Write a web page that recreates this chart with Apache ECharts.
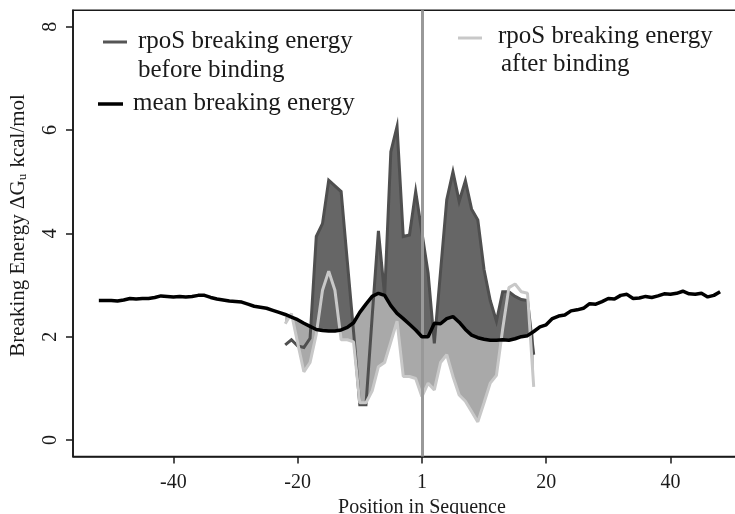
<!DOCTYPE html>
<html>
<head>
<meta charset="utf-8">
<script src="https://cdn.jsdelivr.net/npm/echarts@6/dist/echarts.min.js"></script>
<style>
html,body{margin:0;padding:0;background:#ffffff;}
#chart{width:735px;height:514px;}
</style>
</head>
<body>
<div id="chart"></div>
<script>
// ---------------- data ----------------
const meanStart = -52;
const meanValues = [
  2.70, 2.70, 2.70, 2.69, 2.71, 2.74, 2.73, 2.74, 2.74, 2.76,   // -52..-43
  2.79, 2.78, 2.77, 2.78, 2.77, 2.78, 2.80, 2.80, 2.76, 2.73,   // -42..-33
  2.71, 2.69, 2.68, 2.67, 2.63, 2.59, 2.57, 2.55, 2.51, 2.47,   // -32..-23
  2.43, 2.38, 2.33, 2.26, 2.20, 2.14, 2.12, 2.11, 2.11, 2.13,   // -22..-13
  2.18, 2.27, 2.47, 2.63, 2.78, 2.84, 2.80, 2.60, 2.45, 2.35,   // -12..-3
  2.24, 2.13, 2.00, 2.00, 2.26, 2.25, 2.35, 2.39, 2.28, 2.14,   // -2..7
  2.03, 1.98, 1.95, 1.93, 1.93, 1.94, 1.93, 1.96, 2.00, 2.02,   // 8..17
  2.10, 2.19, 2.23, 2.35, 2.40, 2.42, 2.50, 2.52, 2.55, 2.64,   // 18..27
  2.63, 2.68, 2.74, 2.73, 2.80, 2.82, 2.74, 2.75, 2.78, 2.76,   // 28..37
  2.79, 2.83, 2.82, 2.84, 2.88, 2.83, 2.82, 2.84, 2.77, 2.80,   // 38..47
  2.87                                                          // 48
];
const bindStart = -22;
const beforeValues = [
  1.84, 1.94, 1.82, 1.79, 1.97, 3.94, 4.19, 5.03, 4.92, 4.81,   // -22..-13
  3.45, 2.10, 0.68, 0.68, 2.40, 4.05, 2.80, 5.58, 6.07, 3.94,   // -12..-3
  3.97, 4.81, 4.02, 3.23, 1.87, 3.26, 4.65, 5.19, 4.62, 5.02,   // -2..7
  4.47, 4.26, 3.30, 2.70, 2.30, 2.87, 2.87, 2.78, 2.72, 2.70,   // 8..17
  1.65                                                          // 18
];
const afterValues = [
  2.25, 2.45, 1.88, 1.32, 1.50, 2.05, 2.90, 3.27, 2.90, 1.94,   // -22..-13
  1.94, 1.90, 0.72, 0.72, 0.95, 1.42, 1.50, 1.90, 2.30, 1.23,   // -12..-3
  1.23, 1.19, 0.84, 1.10, 0.97, 1.50, 1.65, 1.23, 0.87, 0.75,   // -2..7
  0.55, 0.35, 0.72, 1.10, 1.25, 2.15, 2.95, 3.02, 2.87, 2.84,   // 8..17
  1.03                                                          // 18
];
const xTickValues = [-40, -20, 0, 20, 40];
const xTickLabels = ['-40', '-20', '1', '20', '40'];
const yTickValues = [0, 2, 4, 6, 8];
const markerPosition = 0;
const xRange = [-56.16, 56.16];
const yRange = [-0.32, 8.32];

// ---------------- helpers ----------------
function toPairs(start, arr) { return arr.map((v, i) => [start + i, v]); }
const meanData = toPairs(meanStart, meanValues);
const beforeData = toPairs(bindStart, beforeValues);
const afterData = toPairs(bindStart, afterValues);
function meanAt(x) { return meanValues[x - meanStart]; }

// polygon between the mean curve and a series, only where sign*(series-mean) > 0
function bandPoints(data, sign) {
  const upper = [];
  for (let i = 0; i < data.length; i++) {
    const x = data[i][0], v = data[i][1], m = meanAt(x);
    const d = sign * (v - m);
    upper.push([x, d > 0 ? v : m]);
    if (i < data.length - 1) {
      const x2 = data[i + 1][0], v2 = data[i + 1][1], m2 = meanAt(x2);
      const d2 = sign * (v2 - m2);
      if ((d > 0 && d2 < 0) || (d < 0 && d2 > 0)) {
        const t = d / (d - d2);
        upper.push([x + t, m + (m2 - m) * t]);
      }
    }
  }
  const lower = [];
  for (let i = data.length - 1; i >= 0; i--) {
    const x = data[i][0];
    lower.push([x, meanAt(x)]);
  }
  return upper.concat(lower);
}
const beforeBand = bandPoints(beforeData, 1);
const afterBand = bandPoints(afterData, -1);

const FONT = '"Liberation Serif", "Times New Roman", serif';
const TXT = '#1a1a1a';
const LEG = 25;

function bandSeries(points, fill, z) {
  return {
    type: 'custom',
    coordinateSystem: 'cartesian2d',
    data: [[points[0][0], points[0][1]]],
    silent: true,
    z: z,
    renderItem: function (params, api) {
      return {
        type: 'polygon',
        shape: { points: points.map(p => api.coord(p)) },
        style: { fill: fill, stroke: null }
      };
    }
  };
}

const chart = echarts.init(document.getElementById('chart'), null, { renderer: 'canvas' });
chart.setOption({
  animation: false,
  backgroundColor: '#ffffff',
  grid: {
    left: 73, top: 10.3, width: 697.8, height: 446.2,
    outerBoundsMode: 'none', containLabel: false,
    show: true, borderColor: '#1a1a1a', borderWidth: 1.6, backgroundColor: 'transparent'
  },
  xAxis: {
    type: 'value',
    min: xRange[0], max: xRange[1],
    name: 'Position in Sequence',
    nameLocation: 'middle',
    nameGap: 34,
    nameTextStyle: { fontFamily: FONT, fontSize: 20, color: TXT },
    axisLine: { onZero: false, lineStyle: { color: '#1a1a1a', width: 1.6 } },
    axisTick: { show: true, length: 7, customValues: xTickValues, lineStyle: { color: '#1a1a1a', width: 1.5 } },
    axisLabel: {
      customValues: xTickValues,
      margin: 16,
      fontFamily: FONT, fontSize: 20, color: TXT,
      formatter: function (v) {
        const i = xTickValues.indexOf(v);
        return i >= 0 ? xTickLabels[i] : '';
      }
    },
    splitLine: { show: false }
  },
  yAxis: {
    type: 'value',
    min: yRange[0], max: yRange[1],
    name: '{n|Breaking Energy ΔG}{s|u}{n| kcal/mol}',
    nameLocation: 'middle',
    nameGap: 42,
    nameTextStyle: {
      fontFamily: FONT, fontSize: 21, color: TXT,
      padding: [0, 0, 0, 16],
      rich: {
        n: { fontFamily: FONT, fontSize: 21, color: TXT, lineHeight: 26 },
        s: { fontFamily: FONT, fontSize: 13, color: TXT, lineHeight: 26, padding: [10, 1, 0, 0] }
      }
    },
    axisLine: { onZero: false, lineStyle: { color: '#1a1a1a', width: 1.6 } },
    axisTick: { show: true, length: 7, customValues: yTickValues, lineStyle: { color: '#1a1a1a', width: 1.5 } },
    axisLabel: {
      customValues: yTickValues,
      rotate: 90,
      margin: 12,
      fontFamily: FONT, fontSize: 20, color: TXT
    },
    splitLine: { show: false }
  },
  graphic: [
    { type: 'line', z: 100, shape: { x1: 103, y1: 42, x2: 127, y2: 42 }, style: { stroke: '#555555', lineWidth: 3 } },
    { type: 'text', z: 100, x: 138, y: 41, style: { text: 'rpoS breaking energy', fontFamily: FONT, fontSize: LEG, fill: TXT, align: 'left', verticalAlign: 'middle' } },
    { type: 'text', z: 100, x: 138, y: 70, style: { text: 'before binding', fontFamily: FONT, fontSize: LEG, fill: TXT, align: 'left', verticalAlign: 'middle' } },
    { type: 'line', z: 100, shape: { x1: 98, y1: 104, x2: 123, y2: 104 }, style: { stroke: '#000000', lineWidth: 3.5 } },
    { type: 'text', z: 100, x: 133, y: 103, style: { text: 'mean breaking energy', fontFamily: FONT, fontSize: LEG, fill: TXT, align: 'left', verticalAlign: 'middle' } },
    { type: 'line', z: 100, shape: { x1: 458, y1: 38, x2: 482, y2: 38 }, style: { stroke: '#c8c8c8', lineWidth: 3 } },
    { type: 'text', z: 100, x: 498, y: 36, style: { text: 'rpoS breaking energy', fontFamily: FONT, fontSize: LEG, fill: TXT, align: 'left', verticalAlign: 'middle' } },
    { type: 'text', z: 100, x: 501, y: 64, style: { text: 'after binding', fontFamily: FONT, fontSize: LEG, fill: TXT, align: 'left', verticalAlign: 'middle' } }
  ],
  series: [
    bandSeries(beforeBand, '#666666', 1),
    bandSeries(afterBand, '#a9a9a9', 2),
    {
      name: 'rpoS breaking energy before binding',
      type: 'line', data: beforeData, z: 3,
      symbol: 'none', showSymbol: false, silent: true,
      lineStyle: { color: '#4f4f4f', width: 3, join: 'miter' }
    },
    {
      name: 'rpoS breaking energy after binding',
      type: 'line', data: afterData, z: 4,
      symbol: 'none', showSymbol: false, silent: true,
      lineStyle: { color: '#c8c8c8', width: 3 }
    },
    {
      name: 'marker', type: 'line', data: [], z: 5, silent: true,
      markLine: {
        silent: true, symbol: ['none', 'none'], label: { show: false },
        lineStyle: { color: '#999999', width: 3, type: 'solid' },
        data: [{ xAxis: markerPosition }]
      }
    },
    {
      name: 'mean breaking energy',
      type: 'line', data: meanData, z: 6,
      symbol: 'none', showSymbol: false, silent: true,
      lineStyle: { color: '#000000', width: 3.5 }
    }
  ]
});
</script>
</body>
</html>
